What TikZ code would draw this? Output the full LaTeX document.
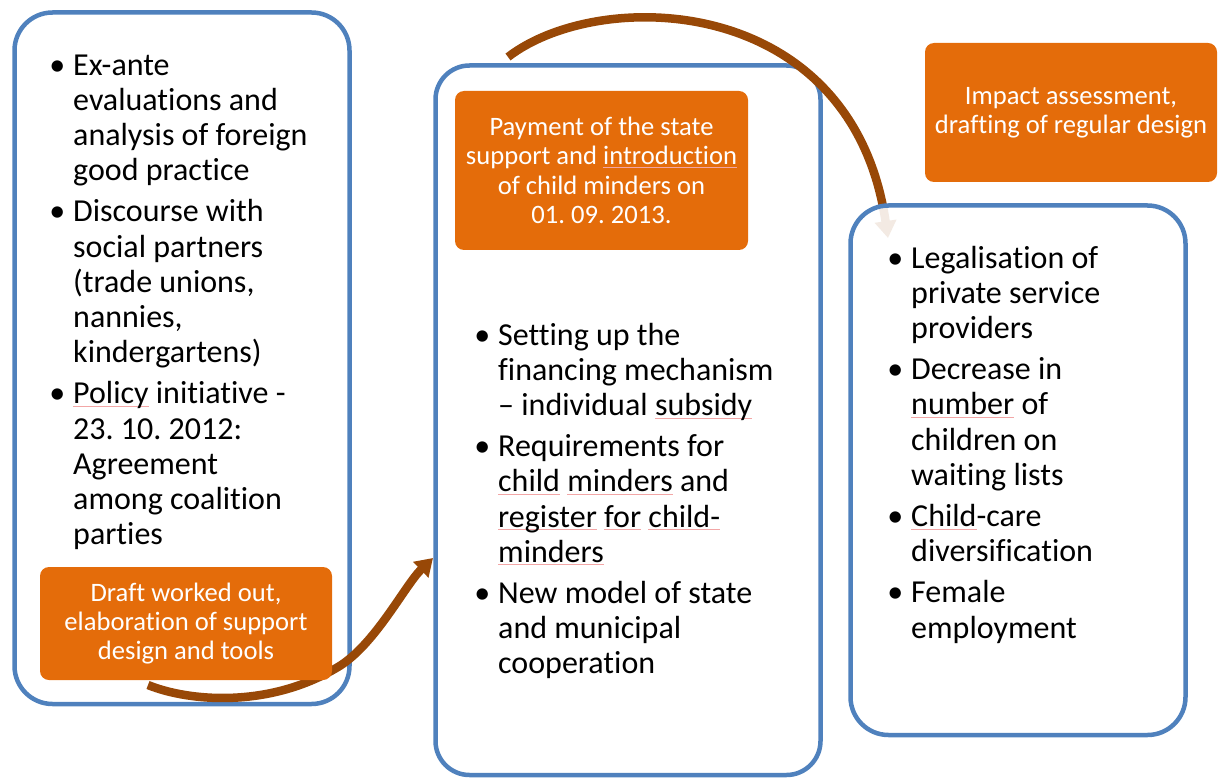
\documentclass[tikz,border=0pt]{standalone}
\usepackage{fontspec}
\setmainfont{Carlito}[Ligatures=NoCommon]
\frenchspacing
\usetikzlibrary{arrows.meta}
\definecolor{frameblue}{HTML}{4F81BD}
\definecolor{stepfill}{HTML}{E46C0A}
\definecolor{flowbrown}{HTML}{984807}
\definecolor{spellred}{HTML}{F2A6A6}
% faint wavy-style underline under flagged words
\newsavebox\spellbox
\newcommand\spell[1]{\sbox\spellbox{#1}\rlap{\textcolor{spellred}{\rule[-3pt]{\wd\spellbox}{0.8pt}}}\usebox\spellbox}
% hanging bullet in front of the first line of an item
\newcommand\itemdot{\leavevmode\llap{•\hspace{8pt}}}
\begin{document}
\begin{tikzpicture}[x=1pt,y=-1pt,
  panel/.style={draw=frameblue, line width=4.5pt, inner sep=0pt},
  stepbox/.style={fill=stepfill, rounded corners=9pt, text=white, align=center,
    inner sep=0pt, font=\fontsize{26.6}{29.3}\selectfont},
  bullets/.style={anchor=base west, align=left, inner sep=0pt,
    font=\fontsize{32}{35.2}\selectfont},
  flow/.style={draw=flowbrown, line width=8.5pt,
    -{Triangle[width=21pt,length=17pt]}}
]
\useasboundingbox (0,0) rectangle (1221,778);

% three phase panels
\node[panel, rounded corners=38pt, minimum width=335pt, minimum height=691.5pt]
  (prep) at (182,358.25) {};
\node[panel, rounded corners=34pt, fill=white, minimum width=385pt, minimum height=709.5pt]
  (launch) at (628,420.25) {};

% arrow from preparation into launch
\coordinate (d1) at (148,685);
\coordinate (d2) at (338,667);
\coordinate (d3) at (433,558);
\draw[flow] (d1) .. controls (190,702) and (270,708) .. (d2)
                 .. controls (375,645) and (405,585) .. (d3);

% arrow from launch towards outcomes
\coordinate (e1) at (508,57);
\coordinate (e2) at (888,238);
\draw[flow] (e1) .. controls (600,-14) and (852,-7) .. (e2);

\node[panel, rounded corners=38pt, fill=white, fill opacity=0.89,
  minimum width=335pt, minimum height=529.5pt] (results) at (1018,470.25) {};

% orange phase labels
\node[stepbox, minimum width=292pt, minimum height=113pt] (draft) at (186,623.5)
  {Draft worked out,\\elaboration of support\\design and tools};
\node[stepbox, minimum width=293pt, minimum height=159pt] (payment) at (601.5,170.5)
  {Payment of the state\\support and \spell{introduction}\\of child minders on\\01. 09. 2013.};
\node[stepbox, minimum width=292pt, minimum height=139pt] (impact) at (1071,112.5)
  {Impact assessment,\\drafting of regular design};

% bullet lists (anchored at the baseline of their last line)
\node[bullets] (prepitems) at (73,544.6) {%
  \itemdot Ex-ante\\ evaluations and\\ analysis of foreign\\ good practice\\[6pt]
  \itemdot Discourse with\\ social partners\\ (trade unions,\\ nannies,\\ kindergartens)\\[6pt]
  \itemdot \spell{Policy} initiative -\\ 23. 10. 2012:\\ Agreement\\ among coalition\\ parties};

\node[bullets] (launchitems) at (498,673.8) {%
  \itemdot Setting up the\\ financing mechanism\\ – individual \spell{subsidy}\\[6pt]
  \itemdot Requirements for\\ \spell{child} \spell{minders} and\\ \spell{register} \spell{for} \spell{child-}\\ \spell{minders}\\[6pt]
  \itemdot New model of state\\ and municipal\\ cooperation};

\node[bullets] (resultitems) at (911,638) {%
  \itemdot Legalisation of\\ private service\\ providers\\[6pt]
  \itemdot Decrease in\\ \spell{number} of\\ children on\\ waiting lists\\[6pt]
  \itemdot \spell{Child}-care\\ diversification\\[6pt]
  \itemdot Female\\ employment};
\end{tikzpicture}
\end{document}
